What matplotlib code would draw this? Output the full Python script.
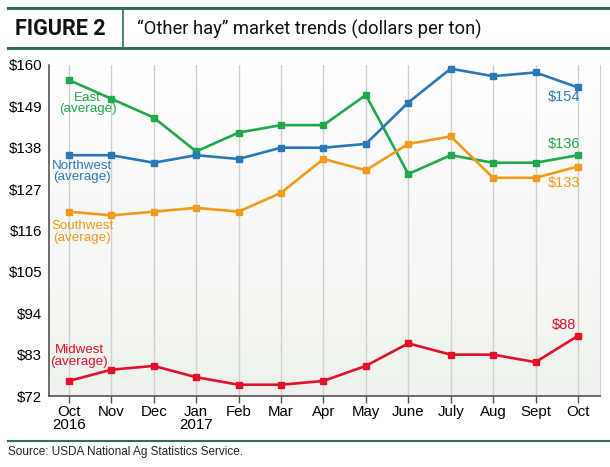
import numpy as np
import matplotlib
matplotlib.use("Agg")
import matplotlib.pyplot as plt
from matplotlib.lines import Line2D

plt.rcParams['font.family'] = ['Liberation Sans Narrow', 'Liberation Sans', 'DejaVu Sans']

# ---- data (dollars per ton) ----
months = ["Oct\n2016", "Nov", "Dec", "Jan\n2017", "Feb", "Mar", "Apr",
          "May", "June", "July", "Aug", "Sept", "Oct"]
east = [156, 151, 146, 137, 142, 144, 144, 152, 131, 136, 134, 134, 136]
northwest = [136, 136, 134, 136, 135, 138, 138, 139, 150, 159, 157, 158, 154]
southwest = [121, 120, 121, 122, 121, 126, 135, 132, 139, 141, 130, 130, 133]
midwest = [76, 79, 80, 77, 75, 75, 76, 80, 86, 83, 83, 81, 88]
yticks = [72, 83, 94, 105, 116, 127, 138, 149, 160]

GREEN = "#20a84a"
BLUE = "#2a79b6"
ORANGE = "#f3991c"
RED = "#e2102b"
TEAL = "#2f6f60"

fig = plt.figure(figsize=(6.10, 4.67), dpi=100)
ax = fig.add_axes([0.0803, 0.152, 0.9033, 0.709])

x = np.arange(len(months))

# gradient background
grad = np.linspace(0, 1, 256).reshape(-1, 1)
cmap = matplotlib.colors.LinearSegmentedColormap.from_list(
    "bg", ["#eef2ec", "#ffffff"])
ax.imshow(grad, aspect="auto", cmap=cmap, origin="lower",
          extent=[-0.47, 12.52, 72, 160], zorder=0)

for xi in x:
    ax.axvline(xi, color="#cfcfcf", lw=1.0, zorder=1)

series = [(east, GREEN), (northwest, BLUE), (southwest, ORANGE), (midwest, RED)]
for vals, col in series:
    ax.plot(x, vals, color=col, lw=1.9, marker="s", markersize=4,
            zorder=3, solid_joinstyle="miter")

ax.set_xlim(-0.47, 12.52)
ax.set_ylim(72, 160)
ax.set_yticks(yticks)
ax.set_yticklabels([f"${v}" for v in yticks], fontsize=10.8)
ax.set_xticks(x)
ax.set_xticklabels(months, fontsize=10.8, linespacing=0.95)
ax.tick_params(axis="y", length=0, pad=5)
ax.tick_params(axis="x", length=5, width=1, color="#555555", pad=1.5)

ax.spines["top"].set_visible(False)
ax.spines["right"].set_color("#cfcfcf")
ax.spines["left"].set_color("#444444")
ax.spines["bottom"].set_color("#444444")
ax.spines["left"].set_linewidth(1.1)
ax.spines["bottom"].set_linewidth(1.1)

# series labels
lab_kw = dict(fontsize=9.6, ha="center", va="center", linespacing=0.92, zorder=4)
ax.text(0.44, 149.7, "East\n(average)", color=GREEN, **lab_kw)
ax.text(0.32, 131.6, "Northwest\n(average)", color=BLUE, **lab_kw)
ax.text(0.32, 115.6, "Southwest\n(average)", color=ORANGE, **lab_kw)
ax.text(0.24, 82.6, "Midwest\n(average)", color=RED, **lab_kw)

end_kw = dict(fontsize=10.5, ha="center", va="center", zorder=4)
ax.text(11.68, 151.5, f"${northwest[-1]}", color=BLUE, **end_kw)
ax.text(11.68, 139.0, f"${east[-1]}", color=GREEN, **end_kw)
ax.text(11.68, 128.6, f"${southwest[-1]}", color=ORANGE, **end_kw)
ax.text(11.68, 90.9, f"${midwest[-1]}", color=RED, **end_kw)

# header
fig.add_artist(Line2D([0.013, 1.0], [0.983, 0.983], color=TEAL, lw=2.2))
fig.add_artist(Line2D([0.013, 1.0], [0.897, 0.897], color=TEAL, lw=2.2))
fig.add_artist(Line2D([0.202, 0.202], [0.897, 0.983], color=TEAL, lw=1.2))
fig.text(0.025, 0.938, "FIGURE 2", fontsize=15.5, fontweight="bold",
         family=["Roboto", "DejaVu Sans"], va="center", ha="left", color="#111111")
fig.text(0.225, 0.938, "\u201cOther hay\u201d market trends (dollars per ton)",
         fontsize=13.2, family=["Roboto", "DejaVu Sans"], va="center", ha="left",
         color="#111111")

# footer
fig.add_artist(Line2D([0.013, 1.0], [0.0555, 0.0555], color=TEAL, lw=1.5))
fig.text(0.013, 0.032, "Source: USDA National Ag Statistics Service.",
         fontsize=8.5, family=["Liberation Sans", "DejaVu Sans"],
         va="center", ha="left", color="#222222")

fig.savefig("out.png", dpi=100)
